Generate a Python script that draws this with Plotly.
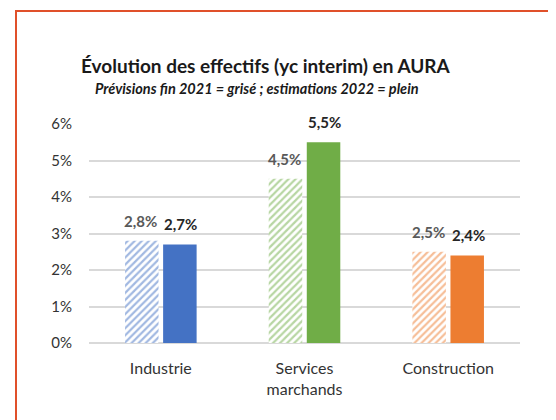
import plotly.graph_objects as go

categories = ["Industrie", "Services<br>marchands", "Construction"]
prev_2021 = [2.8, 4.5, 2.5]
est_2022 = [2.7, 5.5, 2.4]
colors = ["#4472C4", "#70AD47", "#ED7D31"]
y_ticks = [0, 1, 2, 3, 4, 5, 6]
y_tick_text = ["0%", "1%", "2%", "3%", "4%", "5%", "6%"]

title = "Évolution des effectifs (yc interim) en AURA"
subtitle = "Prévisions fin 2021 = grisé ; estimations 2022 = plein"

OFF = 8  # page body margin
W, H = 556, 420
L, R = 89 - OFF, W - (520 - OFF)
T, B = 124 - OFF, H - (343 - OFF)
pw, ph = W - L - R, H - T - B
FONT = "Lato, Open Sans, sans-serif"


def px_x(x):
    return (x - OFF - L) / pw


def px_y(y):
    return (H - B - (y - OFF)) / ph


def fmt(v):
    return f"{v:.1f}%".replace(".", ",")


fig = go.Figure()
fig.add_trace(go.Bar(
    x=categories, y=prev_2021, name="2021",
    marker=dict(color="white", line=dict(width=0),
                pattern=dict(shape="/", fgcolor=colors, bgcolor="white",
                             size=5, solidity=0.45)),
))
fig.add_trace(go.Bar(
    x=categories, y=est_2022, name="2022",
    marker=dict(color=colors, line=dict(width=0)),
))

for c, v in zip(categories, prev_2021):
    fig.add_annotation(x=c, y=v, xref="x", yref="y", text="<b>" + fmt(v) + "</b>", showarrow=False,
                       xshift=-20, yshift=20,
                       font=dict(family=FONT, size=15, color="#595959"))
for c, v in zip(categories, est_2022):
    fig.add_annotation(x=c, y=v, xref="x", yref="y", text="<b>" + fmt(v) + "</b>", showarrow=False,
                       xshift=20, yshift=20,
                       font=dict(family=FONT, size=15, color="#262626"))

fig.add_annotation(x=px_x(266), y=px_y(66), xref="paper", yref="paper",
                   xanchor="center", yanchor="middle",
                   text="<b>" + title + "</b>", showarrow=False,
                   font=dict(family=FONT, size=19, color="#1a1a1a"))
fig.add_annotation(x=px_x(257), y=px_y(88), xref="paper", yref="paper",
                   xanchor="center", yanchor="middle",
                   text="<b><i>" + subtitle + "</i></b>", showarrow=False,
                   font=dict(family=FONT, size=14.5, color="#1a1a1a"))

fig.add_shape(type="rect", xref="paper", yref="paper",
              x0=px_x(16), x1=px_x(W + 20), y0=px_y(H + 20), y1=px_y(11),
              line=dict(color="#E0502A", width=2), layer="above")

fig.update_layout(
    width=W, height=H,
    margin=dict(l=L, r=R, t=T, b=B, autoexpand=False),
    paper_bgcolor="white", plot_bgcolor="white",
    barmode="group", bargap=0.47, bargroupgap=0.12,
    showlegend=False,
    font=dict(family=FONT, size=16, color="#333333"),
)
fig.update_xaxes(showgrid=False, showline=False, ticks="", ticklabelstandoff=14,
                 automargin=False, tickfont=dict(family=FONT, size=16, color="#333333"))
fig.update_yaxes(range=[0, 6], tickvals=y_ticks, ticktext=y_tick_text, showgrid=True,
                 gridcolor="#D9D9D9", gridwidth=1.5, zeroline=True, zerolinecolor="#D9D9D9",
                 zerolinewidth=1.5, showline=False, ticks="", ticklabelstandoff=16,
                 automargin=False, tickfont=dict(family=FONT, size=15, color="#333333"))

fig.write_html("out.html")
